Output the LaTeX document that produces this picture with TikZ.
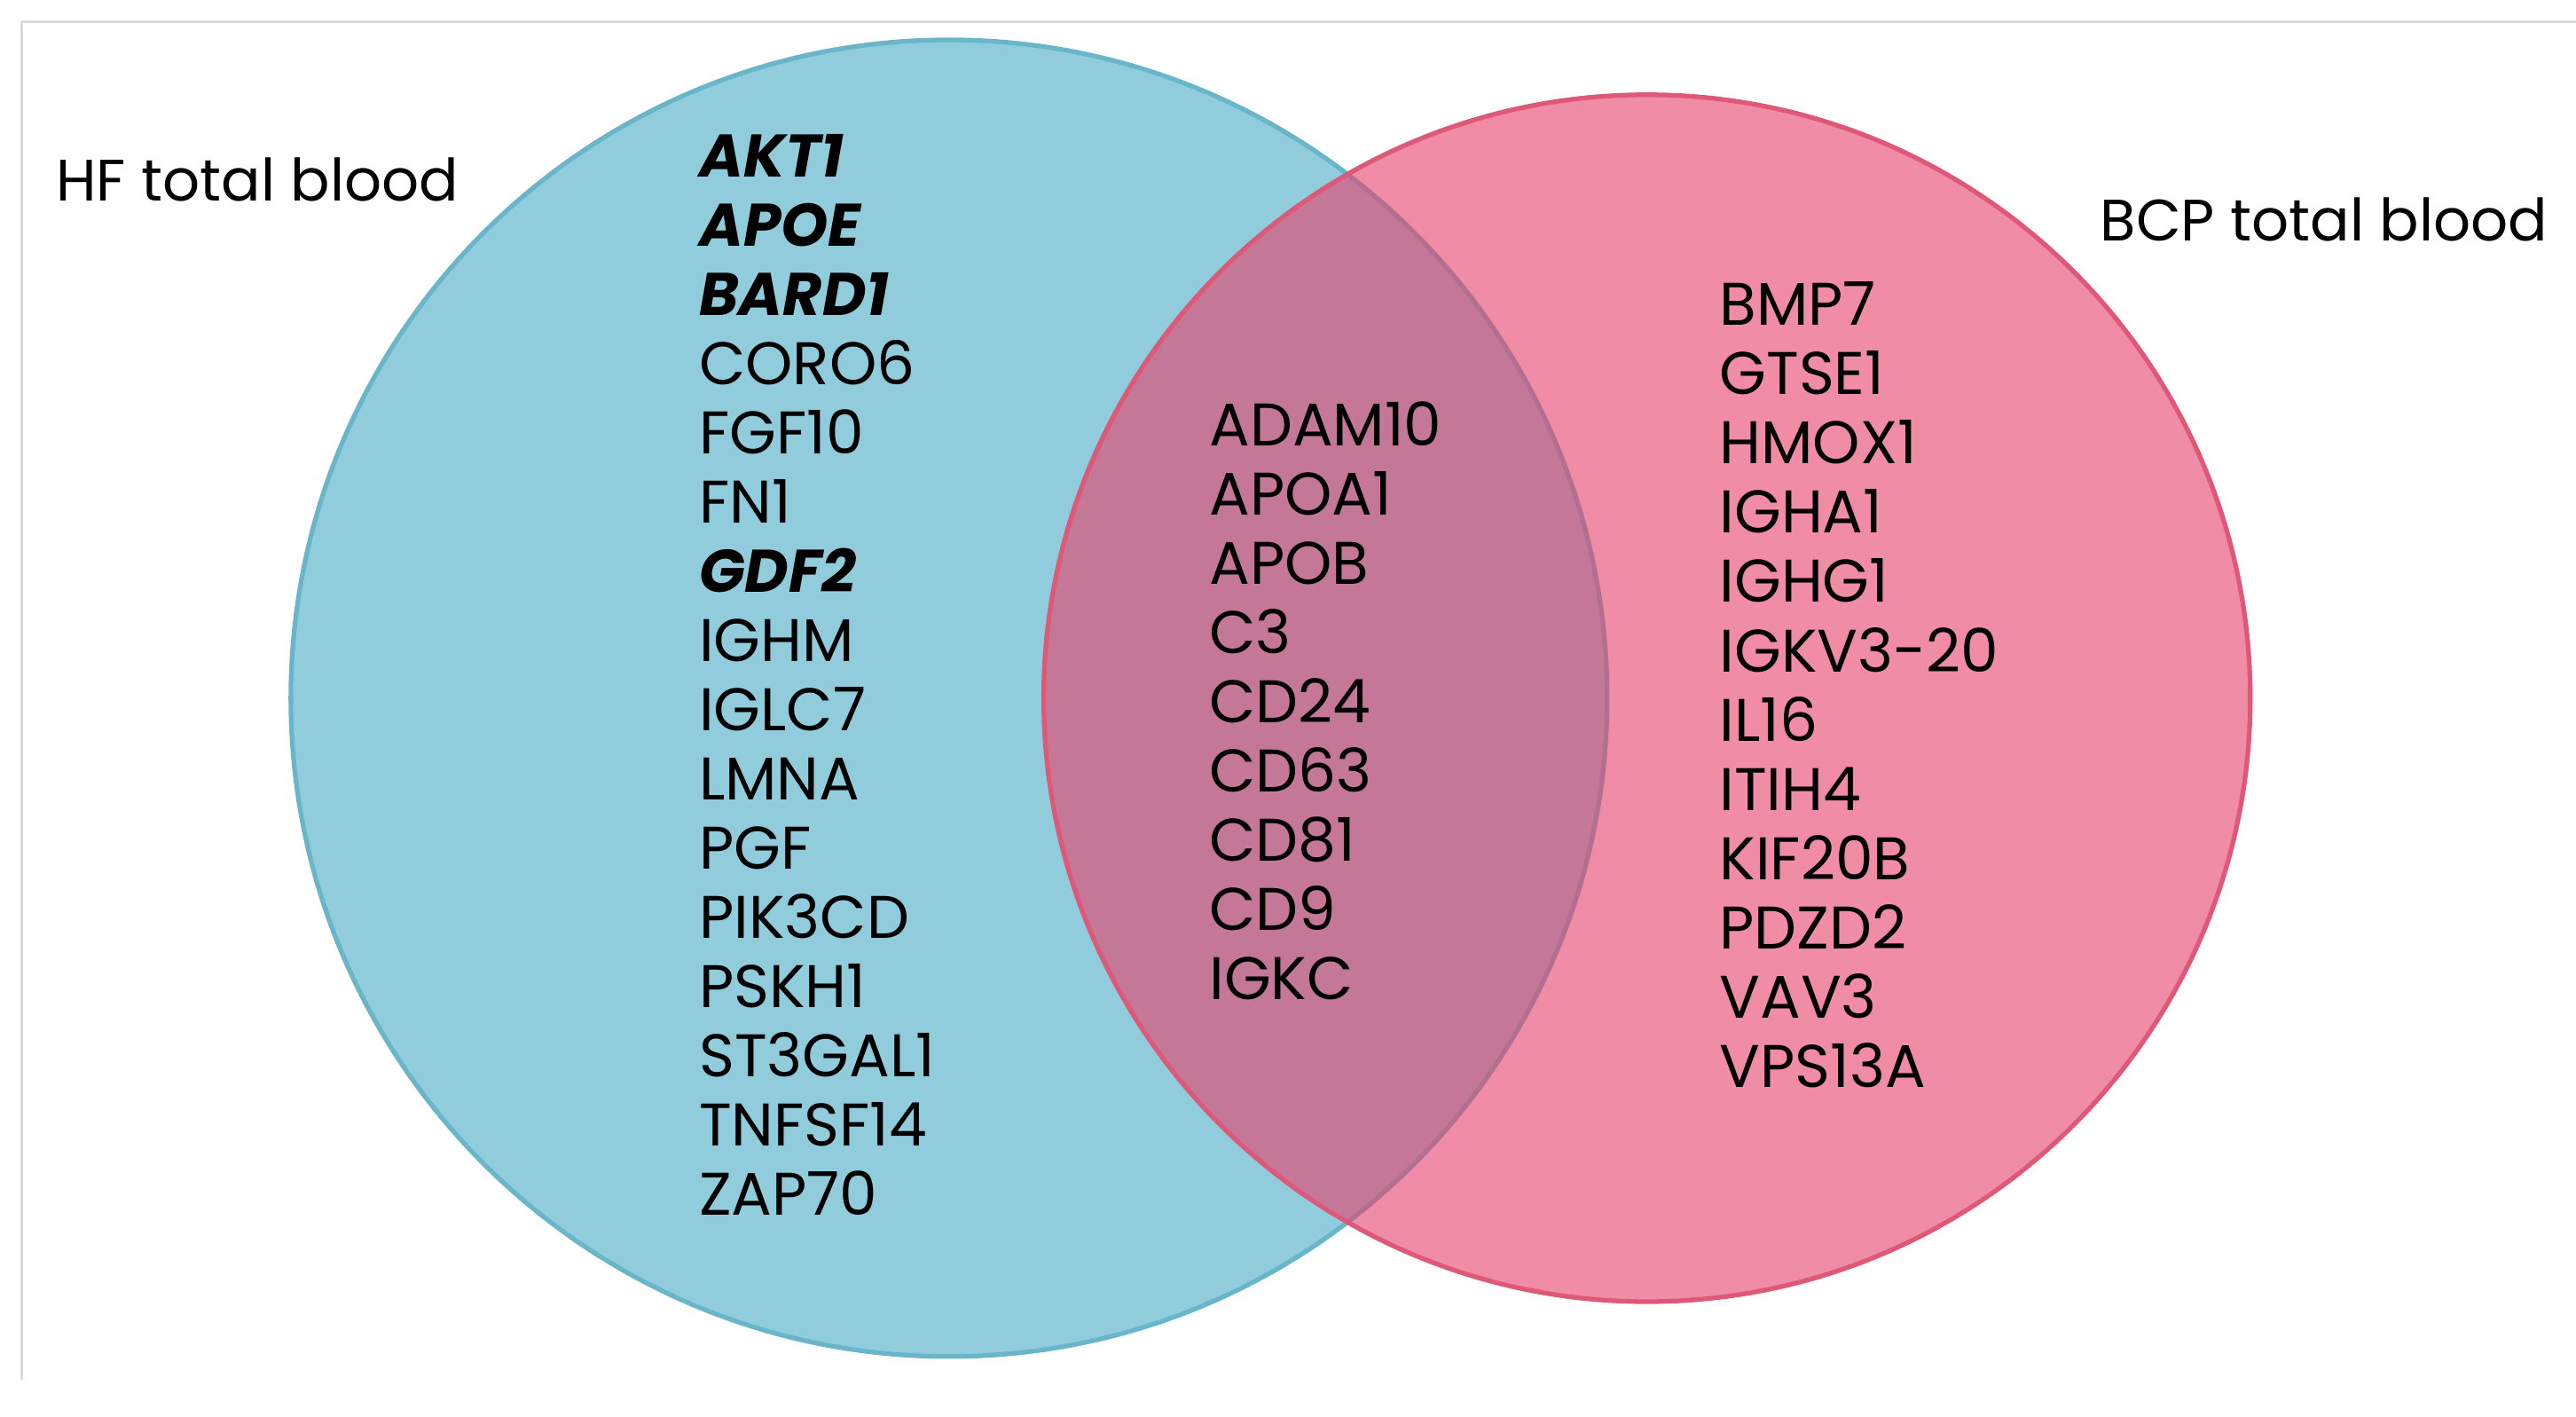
\documentclass[tikz,border=0pt]{standalone}
\usepackage{fontspec}
\setmainfont{Poppins}
\usetikzlibrary{positioning}
\definecolor{hfblue}{RGB}{145,204,220}
\definecolor{hfedge}{RGB}{105,182,202}
\definecolor{bcppink}{RGB}{230,63,105}
\definecolor{bcpedge}{RGB}{222,88,120}
\tikzset{
	genes/.style = {
			anchor=north west, align=left, inner sep=0pt,
			font=\fontsize{10.3}{11.85}\selectfont,
		},
	setlabel/.style = {
			anchor=west, inner sep=0pt,
			font=\fontsize{10}{12}\selectfont,
		}
}
\begin{document}
\begin{tikzpicture}[x=1cm,y=1cm]
	\useasboundingbox (0,0) rectangle (15.5,-8.52);
	\draw[gray!30, thin] (0.13,-8.3) -- (0.13,-0.13) -- (15.5,-0.13);

	\draw[hfedge, thick, fill=hfblue] (5.71,-4.2) circle (3.96);
	\draw[bcpedge, thick, fill=bcppink, fill opacity=0.6] (9.91,-4.2) circle (3.63);

	\node[setlabel] at (0.33,-1.08) (hflabel) {HF total blood};
	\node[setlabel] at (12.63,-1.32) (bcplabel) {BCP total blood};

	\node[genes] at (4.2,-0.8) (hf) {\textbf{\textit{AKT1}}\\\textbf{\textit{APOE}}\\\textbf{\textit{BARD1}}\\CORO6\\FGF10\\FN1\\\textbf{\textit{GDF2}}\\IGHM\\IGLC7\\LMNA\\PGF\\PIK3CD\\PSKH1\\ST3GAL1\\TNFSF14\\ZAP70};
	\node[genes] at (7.27,-2.41) (both) {ADAM10\\APOA1\\APOB\\C3\\CD24\\CD63\\CD81\\CD9\\IGKC};
	\node[genes] at (10.34,-1.69) (bcp) {BMP7\\GTSE1\\HMOX1\\IGHA1\\IGHG1\\IGKV3-20\\IL16\\ITIH4\\KIF20B\\PDZD2\\VAV3\\VPS13A};
\end{tikzpicture}
\end{document}
